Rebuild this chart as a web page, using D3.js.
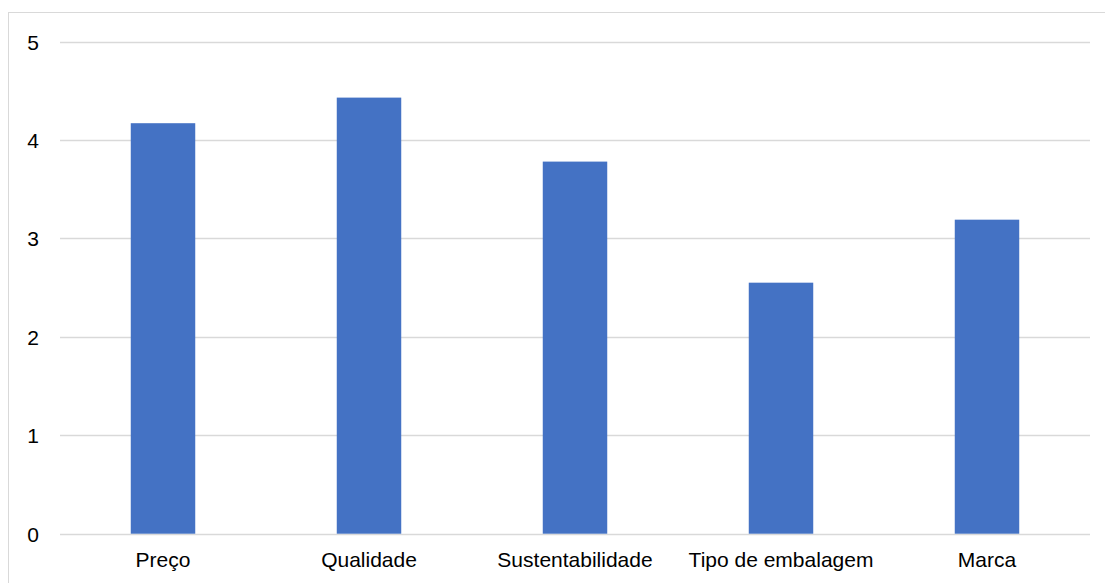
<!DOCTYPE html>
<html>
<head>
<meta charset="utf-8">
<script src="https://cdn.jsdelivr.net/npm/d3@7"></script>
<style>
  html, body { margin: 0; padding: 0; background: #fff; }
  svg { display: block; font-family: "Liberation Sans", Arial, sans-serif; }
</style>
</head>
<body>
<svg id="chart" width="1105" height="583"></svg>
<script>
// Average importance per purchase factor
const categories = ["Preço", "Qualidade", "Sustentabilidade", "Tipo de embalagem", "Marca"];
const values = [4.17, 4.43, 3.78, 2.55, 3.19];
const yTicks = [0, 1, 2, 3, 4, 5];

const svg = d3.select("#chart");
const W = 1105, H = 583;
const plot = { left: 60, right: 1090, top: 41.5, bottom: 533.7 };

// Chart frame
svg.append("rect")
  .attr("x", 8.5).attr("y", 12.5)
  .attr("width", W + 10).attr("height", H + 10)
  .attr("fill", "none").attr("stroke", "#d9d9d9").attr("stroke-width", 1);

const x = d3.scaleBand()
  .domain(categories)
  .range([plot.left, plot.right])
  .paddingInner(0.687)
  .paddingOuter(0.3435);

const y = d3.scaleLinear()
  .domain([0, 5])
  .range([plot.bottom, plot.top]);

// Horizontal gridlines
svg.append("g")
  .selectAll("line")
  .data(yTicks)
  .join("line")
  .attr("x1", plot.left).attr("x2", plot.right)
  .attr("y1", d => Math.round(y(d)) + 0.5)
  .attr("y2", d => Math.round(y(d)) + 0.5)
  .attr("stroke", "#d9d9d9").attr("stroke-width", 1.3);

// Y axis labels
const yAxis = d3.axisLeft(y).tickValues(yTicks).tickFormat(d3.format("d")).tickSize(0).tickPadding(0);
const gy = svg.append("g").attr("transform", `translate(39,0)`).call(yAxis);
gy.select(".domain").remove();
gy.selectAll("text")
  .attr("font-size", 21).attr("fill", "#000")
  .attr("font-family", "Liberation Sans, Arial, sans-serif")
  .attr("dy", "0.36em");

// Bars
svg.append("g")
  .selectAll("rect")
  .data(categories.map((c, i) => ({ c, v: values[i] })))
  .join("rect")
  .attr("x", d => x(d.c))
  .attr("width", x.bandwidth())
  .attr("y", d => y(d.v))
  .attr("height", d => y(0) - y(d.v))
  .attr("fill", "#4472c4");

// Category labels
const xAxis = d3.axisBottom(x).tickSize(0).tickPadding(0);
const gx = svg.append("g").attr("transform", `translate(0,${plot.bottom})`).call(xAxis);
gx.select(".domain").remove();
gx.selectAll("text")
  .attr("font-size", 21).attr("fill", "#000")
  .attr("font-family", "Liberation Sans, Arial, sans-serif")
  .attr("dy", null)
  .attr("y", 33);
</script>
</body>
</html>
